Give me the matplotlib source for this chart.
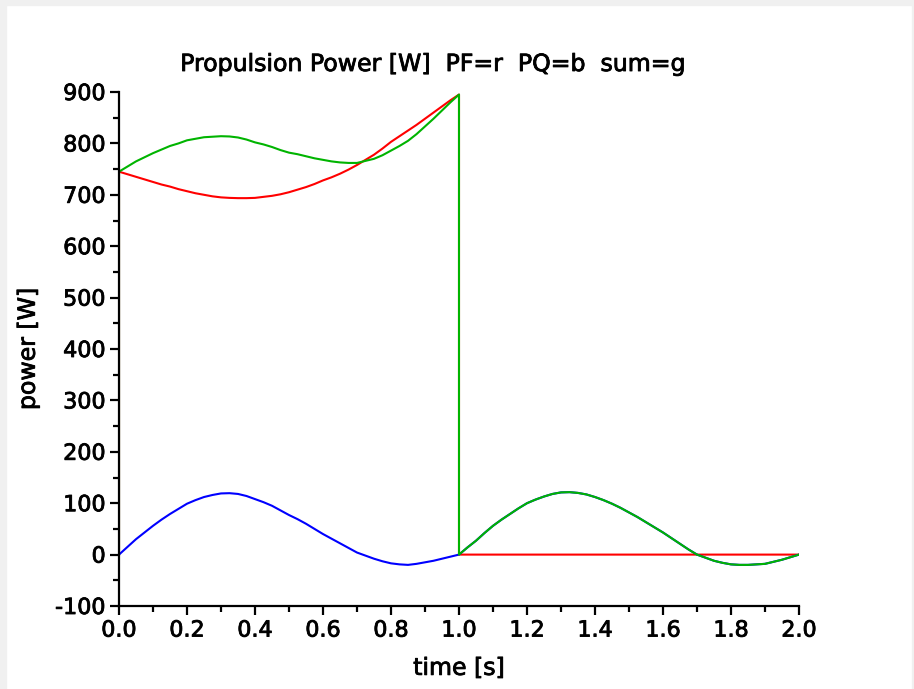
import matplotlib
matplotlib.use("Agg")
import matplotlib.pyplot as plt
from matplotlib.patches import Rectangle
from matplotlib.ticker import MultipleLocator
import matplotlib.patheffects as pe
import numpy as np

# time samples (s), first and second half of the cycle
t_a = [0.000, 0.025, 0.050, 0.075, 0.100, 0.125, 0.150, 0.175, 0.200, 0.225,
       0.250, 0.275, 0.300, 0.325, 0.350, 0.375, 0.400, 0.425, 0.450, 0.475,
       0.500, 0.525, 0.550, 0.575, 0.600, 0.625, 0.650, 0.675, 0.700, 0.725,
       0.750, 0.775, 0.800, 0.825, 0.850, 0.875, 0.900, 0.925, 0.950, 0.975, 1.000]
t_b = [1.000, 1.025, 1.050, 1.075, 1.100, 1.125, 1.150, 1.175, 1.200, 1.225,
       1.250, 1.275, 1.300, 1.325, 1.350, 1.375, 1.400, 1.425, 1.450, 1.475,
       1.500, 1.525, 1.550, 1.575, 1.600, 1.625, 1.650, 1.675, 1.700, 1.725,
       1.750, 1.775, 1.800, 1.825, 1.850, 1.875, 1.900, 1.925, 1.950, 1.975, 2.000]

# PF (red)
pf_a = [745, 740, 735, 730, 725, 720, 716, 711, 707, 703,
        700, 697, 695, 694, 693.5, 693.5, 694, 696, 698, 701,
        705, 710, 715, 721, 728, 734, 741, 749, 758, 768,
        778, 790, 803, 814, 825, 836, 848, 860, 872, 884, 895]
pf_b = [0] * 41

# PQ (blue)
pq_a = [0, 15, 30, 43, 56, 68, 79, 89, 99, 106,
        112, 116, 119, 119.5, 118, 114, 108, 102, 95, 86,
        77, 69, 60, 50, 40, 31, 22, 13, 4, -2,
        -8, -13, -17, -19, -20, -18, -15, -12, -8, -4, 0]
pq_b = [0, 14, 27, 42, 56, 68, 79, 90, 100, 107,
        113, 118, 121, 121.5, 120, 117, 112, 106, 99, 91,
        82, 73, 63, 53, 43, 32, 21, 10, 0, -6,
        -12, -16, -19, -20, -20, -19, -18, -14, -10, -5, 0]

# sum (green)
sum_a = [745, 755, 765, 773, 781, 788, 795, 800, 806, 809,
         812, 813, 814, 813.5, 811.5, 807.5, 802, 798, 793, 787,
         782, 779, 775, 771, 768, 765, 763, 762, 762, 766,
         770, 777, 786, 795, 805, 818, 833, 848, 864, 880, 895]
sum_b = [0, 14, 27, 42, 56, 68, 79, 90, 100, 107,
         113, 118, 121, 121.5, 120, 117, 112, 106, 99, 91,
         82, 73, 63, 53, 43, 32, 21, 10, 0, -6,
         -12, -16, -19, -20, -20, -19, -18, -14, -10, -5, 0]

# series start at zero at t=0 (vertical jump like the original)
time = np.array([0.0] + t_a + t_b)
PF = np.array([0] + pf_a + pf_b)
PQ = np.array([0] + pq_a + pq_b)
SUM = np.array([0] + sum_a + sum_b)

W, H = 914, 689
fig = plt.figure(figsize=(W / 100, H / 100), dpi=100)
fig.patch.set_facecolor("white")

# grey window border
grey = "#f0f0f0"
fig.patches.append(Rectangle((0, 1 - 5 / H), 1, 5 / H, transform=fig.transFigure, color=grey, zorder=0))
fig.patches.append(Rectangle((0, 0), 6 / W, 1, transform=fig.transFigure, color=grey, zorder=0))
fig.patches.append(Rectangle((1 - 2 / W, 0), 2 / W, 1, transform=fig.transFigure, color=grey, zorder=0))

ax = fig.add_axes([119 / W, (H - 606) / H, 680 / W, 514 / H])
ax.set_facecolor("none")

lw = 1.5
ax.plot(time, PF, color="#ff0000", lw=lw)
ax.plot(time, PQ, color="#0000ff", lw=lw)
ax.plot(time, SUM, color="#00b400", lw=lw)

ax.set_xlim(0, 2)
ax.set_ylim(-100, 900)
for s in ["top", "right"]:
    ax.spines[s].set_visible(False)
for s in ["left", "bottom"]:
    ax.spines[s].set_linewidth(1.6)
    ax.spines[s].set_color("black")

ax.xaxis.set_major_locator(MultipleLocator(0.2))
ax.xaxis.set_minor_locator(MultipleLocator(0.1))
ax.yaxis.set_major_locator(MultipleLocator(100))
ax.yaxis.set_minor_locator(MultipleLocator(50))
ax.xaxis.set_major_formatter(plt.FuncFormatter(lambda v, p: f"{v:.1f}"))
ax.yaxis.set_major_formatter(plt.FuncFormatter(lambda v, p: f"{v:.0f}"))

ax.tick_params(which="major", direction="out", length=6.5, width=1.6, labelsize=16, pad=3)
ax.tick_params(which="minor", direction="out", length=4, width=1.6)
ax.tick_params(axis="x", which="major", pad=4)

# heavier text, like the original bitmap font
thick = [pe.withStroke(linewidth=0.6, foreground="black")]
for lab in ax.get_xticklabels() + ax.get_yticklabels():
    lab.set_path_effects(thick)

ax.set_xlabel("time [s]", fontsize=17, labelpad=11, path_effects=thick)
ax.set_ylabel("power [W]", fontsize=17, labelpad=11, path_effects=thick)

fig.text(433 / W, 1 - 64 / H, "Propulsion Power [W]  PF=r  PQ=b  sum=g",
         ha="center", va="center", fontsize=17, path_effects=thick)

fig.savefig("out.png", dpi=100)
